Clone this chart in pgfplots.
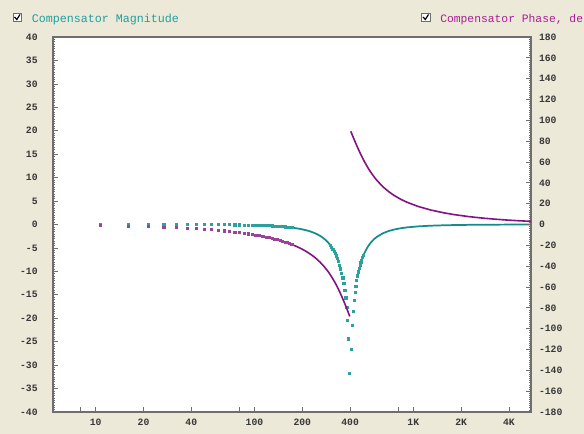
\documentclass[border=0pt]{standalone}
\usepackage{pgfplots}
\pgfplotsset{compat=1.18}
\usepackage{fontspec}
\setmainfont{Liberation Mono}
\definecolor{bgc}{RGB}{236,233,216}
\definecolor{tealc}{RGB}{20,140,140}
\definecolor{tealdot}{RGB}{45,160,160}
\definecolor{magc}{RGB}{130,20,130}
\definecolor{txtteal}{RGB}{30,160,160}
\definecolor{txtmag}{RGB}{170,30,150}
\definecolor{axc}{RGB}{110,110,110}
\definecolor{lblc}{RGB}{55,55,55}
\begin{document}
\begin{tikzpicture}
\useasboundingbox (0,0) rectangle (438pt,325.5pt);
\fill[bgc] (0,0) rectangle (438pt,325.5pt);
\clip (0,0) rectangle (438pt,325.5pt);
\begin{scope}[x=0.75pt,y=0.75pt]
\draw[axc, fill=white, line width=0.6pt] (13,412.5) rectangle (21.5,421);
\draw[black, line width=0.9pt] (14.5,417) -- (16.8,414.5) -- (20,419.5);
\node[anchor=base west, inner sep=0, text=txtteal, font=\fontsize{8.75}{9}\selectfont] at (31.5,411.5) {Compensator Magnitude};
\draw[axc, fill=white, line width=0.6pt] (421.5,412.5) rectangle (430,421);
\draw[black, line width=0.9pt] (423,417) -- (425.3,414.5) -- (428.5,419.5);
\node[anchor=base west, inner sep=0, text=txtmag, font=\fontsize{8.5}{9}\selectfont] at (440,411.5) {Compensator Phase, de};
\end{scope}
\begin{axis}[
 at={(39.75pt,16.5pt)}, anchor=south west, scale only axis,
 width=358.5pt, height=281.25pt,
 xmode=log, xmin=5.3833, xmax=5512.5, ymin=-40, ymax=40,
 axis background/.style={fill=white},
 axis line style={draw=axc, line width=1pt},
 xtick={8,10,20,40,80,100,200,400,800,1000,2000,4000},
 xticklabels={,10,20,40,,100,200,400,,1K,2K,4K},
 minor xtick={},
 ytick={-40,-35,...,40},
 minor y tick num=9,
 xtick pos=bottom, ytick pos=left, tick align=inside,
 major tick length=3.5pt, minor tick length=1.8pt,
 tick style={draw=axc, line width=0.5pt},
 /pgf/number format/assume math mode=true,
 tick label style={font=\fontsize{7.3}{8}\selectfont\bfseries, text=lblc},
 yticklabel style={xshift=-8pt},
 xticklabel style={yshift=-2pt},
]
\addplot[only marks, mark=square*, mark size=0.8pt, color=tealdot, mark options={line width=0pt}] coordinates {
(10.77,-0.002)(16.15,-0.004)(21.53,-0.008)(26.92,-0.012)(32.30,-0.018)(37.68,-0.024)(43.07,-0.031)(48.45,-0.040)(53.83,-0.050)(59.22,-0.061)(64.60,-0.073)(69.98,-0.086)(75.37,-0.100)(80.75,-0.116)(86.13,-0.133)(91.52,-0.152)(96.90,-0.173)(102.28,-0.194)(107.67,-0.218)(113.05,-0.244)(118.43,-0.271)(123.82,-0.300)(129.20,-0.332)(134.58,-0.366)(139.97,-0.403)(145.35,-0.442)(150.73,-0.483)(156.12,-0.528)(161.50,-0.576)(166.88,-0.628)(172.27,-0.683)
(301.46,-4.484)(306.85,-4.855)(312.23,-5.260)(317.61,-5.703)(323.00,-6.188)(328.38,-6.721)(333.76,-7.308)(339.15,-7.958)(344.53,-8.680)(349.91,-9.486)(355.30,-10.394)(360.68,-11.426)(366.06,-12.614)(371.45,-14.005)(376.83,-15.672)(382.21,-17.743)(387.60,-20.465)(392.98,-24.429)(398.36,-31.838)
(409.13,-26.67)(414.51,-21.64)(419.90,-18.53)(425.28,-16.30)(430.66,-14.57)(436.05,-13.17)(441.43,-12.00)(446.81,-11.00)(452.20,-10.14)(457.58,-9.39)(462.96,-8.72)(468.35,-8.13)(473.73,-7.60)(479.11,-7.12)(484.50,-6.68)
};
\addplot[tealc, line width=1.3pt] coordinates {
(172.27,-0.683)(183.03,-0.806)(193.80,-0.947)(204.57,-1.111)(215.33,-1.299)(226.10,-1.517)(236.87,-1.770)(247.63,-2.064)(258.40,-2.406)(269.17,-2.807)(279.93,-3.277)(290.70,-3.830)(301.46,-4.484)(306.85,-4.855)
};
\addplot[tealc, line width=1.3pt] coordinates {
(473.73,-7.595)(479.11,-7.116)(484.50,-6.682)(495.26,-5.929)(506.03,-5.298)(516.80,-4.765)(527.56,-4.309)(538.33,-3.917)(565.25,-3.145)(592.16,-2.585)(645.99,-1.843)(699.83,-1.388)(753.66,-1.088)(834.41,-0.797)(915.16,-0.613)(1076.66,-0.399)(1291.99,-0.256)(1561.16,-0.166)(1830.32,-0.117)(2260.99,-0.074)(2745.48,-0.049)(3229.98,-0.035)(3875.98,-0.024)(4575.81,-0.017)(5512.50,-0.012)
};
\end{axis}
\begin{axis}[
 at={(39.75pt,16.5pt)}, anchor=south west, scale only axis,
 width=358.5pt, height=281.25pt,
 xmode=log, xmin=5.3833, xmax=5512.5, ymin=-180, ymax=180,
 axis x line=none, axis y line*=right,
 axis line style={draw=axc, line width=1pt},
 ytick={-180,-160,...,180}, minor y tick num=9,
 tick align=inside,
 major tick length=3.5pt, minor tick length=1.8pt,
 tick style={draw=axc, line width=0.5pt},
 /pgf/number format/assume math mode=true,
 tick label style={font=\fontsize{7.3}{8}\selectfont\bfseries, text=lblc},
 yticklabel style={xshift=2.5pt},
]
\addplot[only marks, mark=square*, mark size=0.8pt, color=magc!80!white, mark options={line width=0pt}] coordinates {
(10.77,-1.02)(16.15,-1.54)(21.53,-2.05)(26.92,-2.57)(32.30,-3.08)(37.68,-3.60)(43.07,-4.13)(48.45,-4.66)(53.83,-5.19)(59.22,-5.73)(64.60,-6.27)(69.98,-6.82)(75.37,-7.37)(80.75,-7.94)(86.13,-8.51)(91.52,-9.08)(96.90,-9.67)(102.28,-10.27)(107.67,-10.88)(113.05,-11.49)(118.43,-12.12)(123.82,-12.77)(129.20,-13.42)(134.58,-14.09)(139.97,-14.78)(145.35,-15.48)(150.73,-16.20)(156.12,-16.93)(161.50,-17.69)(166.88,-18.46)(172.27,-19.26)
};
\addplot[magc, line width=1.2pt] coordinates {
(172.27,-19.26)(183.03,-20.93)(193.80,-22.69)(204.57,-24.56)(215.33,-26.56)(226.10,-28.70)(236.87,-30.98)(247.63,-33.43)(258.40,-36.07)(269.17,-38.90)(279.93,-41.94)(290.70,-45.21)(301.46,-48.70)(312.23,-52.43)(323.00,-56.39)(333.76,-60.56)(344.53,-64.94)(355.30,-69.47)(366.06,-74.13)(371.45,-76.48)(376.83,-78.85)(382.21,-81.22)(387.60,-83.58)(392.98,-85.94)(398.36,-88.27)
};
\addplot[magc, line width=1.2pt] coordinates {
(403.75,89.46)(409.13,87.34)(414.51,85.25)(419.90,83.20)(425.28,81.19)(430.66,79.23)(436.05,77.31)(441.43,75.45)(446.81,73.63)(452.20,71.87)(457.58,70.16)(462.96,68.50)(468.35,66.90)(473.73,65.34)(479.11,63.85)(484.50,62.39)(495.26,59.65)(506.03,57.09)(516.80,54.70)(527.56,52.49)(538.33,50.43)(565.25,45.88)(592.16,42.05)(645.99,36.02)(699.83,31.53)(753.66,28.08)(834.41,24.17)(915.16,21.27)(1076.66,17.24)(1291.99,13.84)(1561.16,11.16)(1830.32,9.37)(2260.99,7.48)(2745.48,6.11)(3229.98,5.17)(3875.98,4.29)(4575.81,3.62)(5512.50,3.00)
};
\end{axis}
\end{tikzpicture}
\end{document}
